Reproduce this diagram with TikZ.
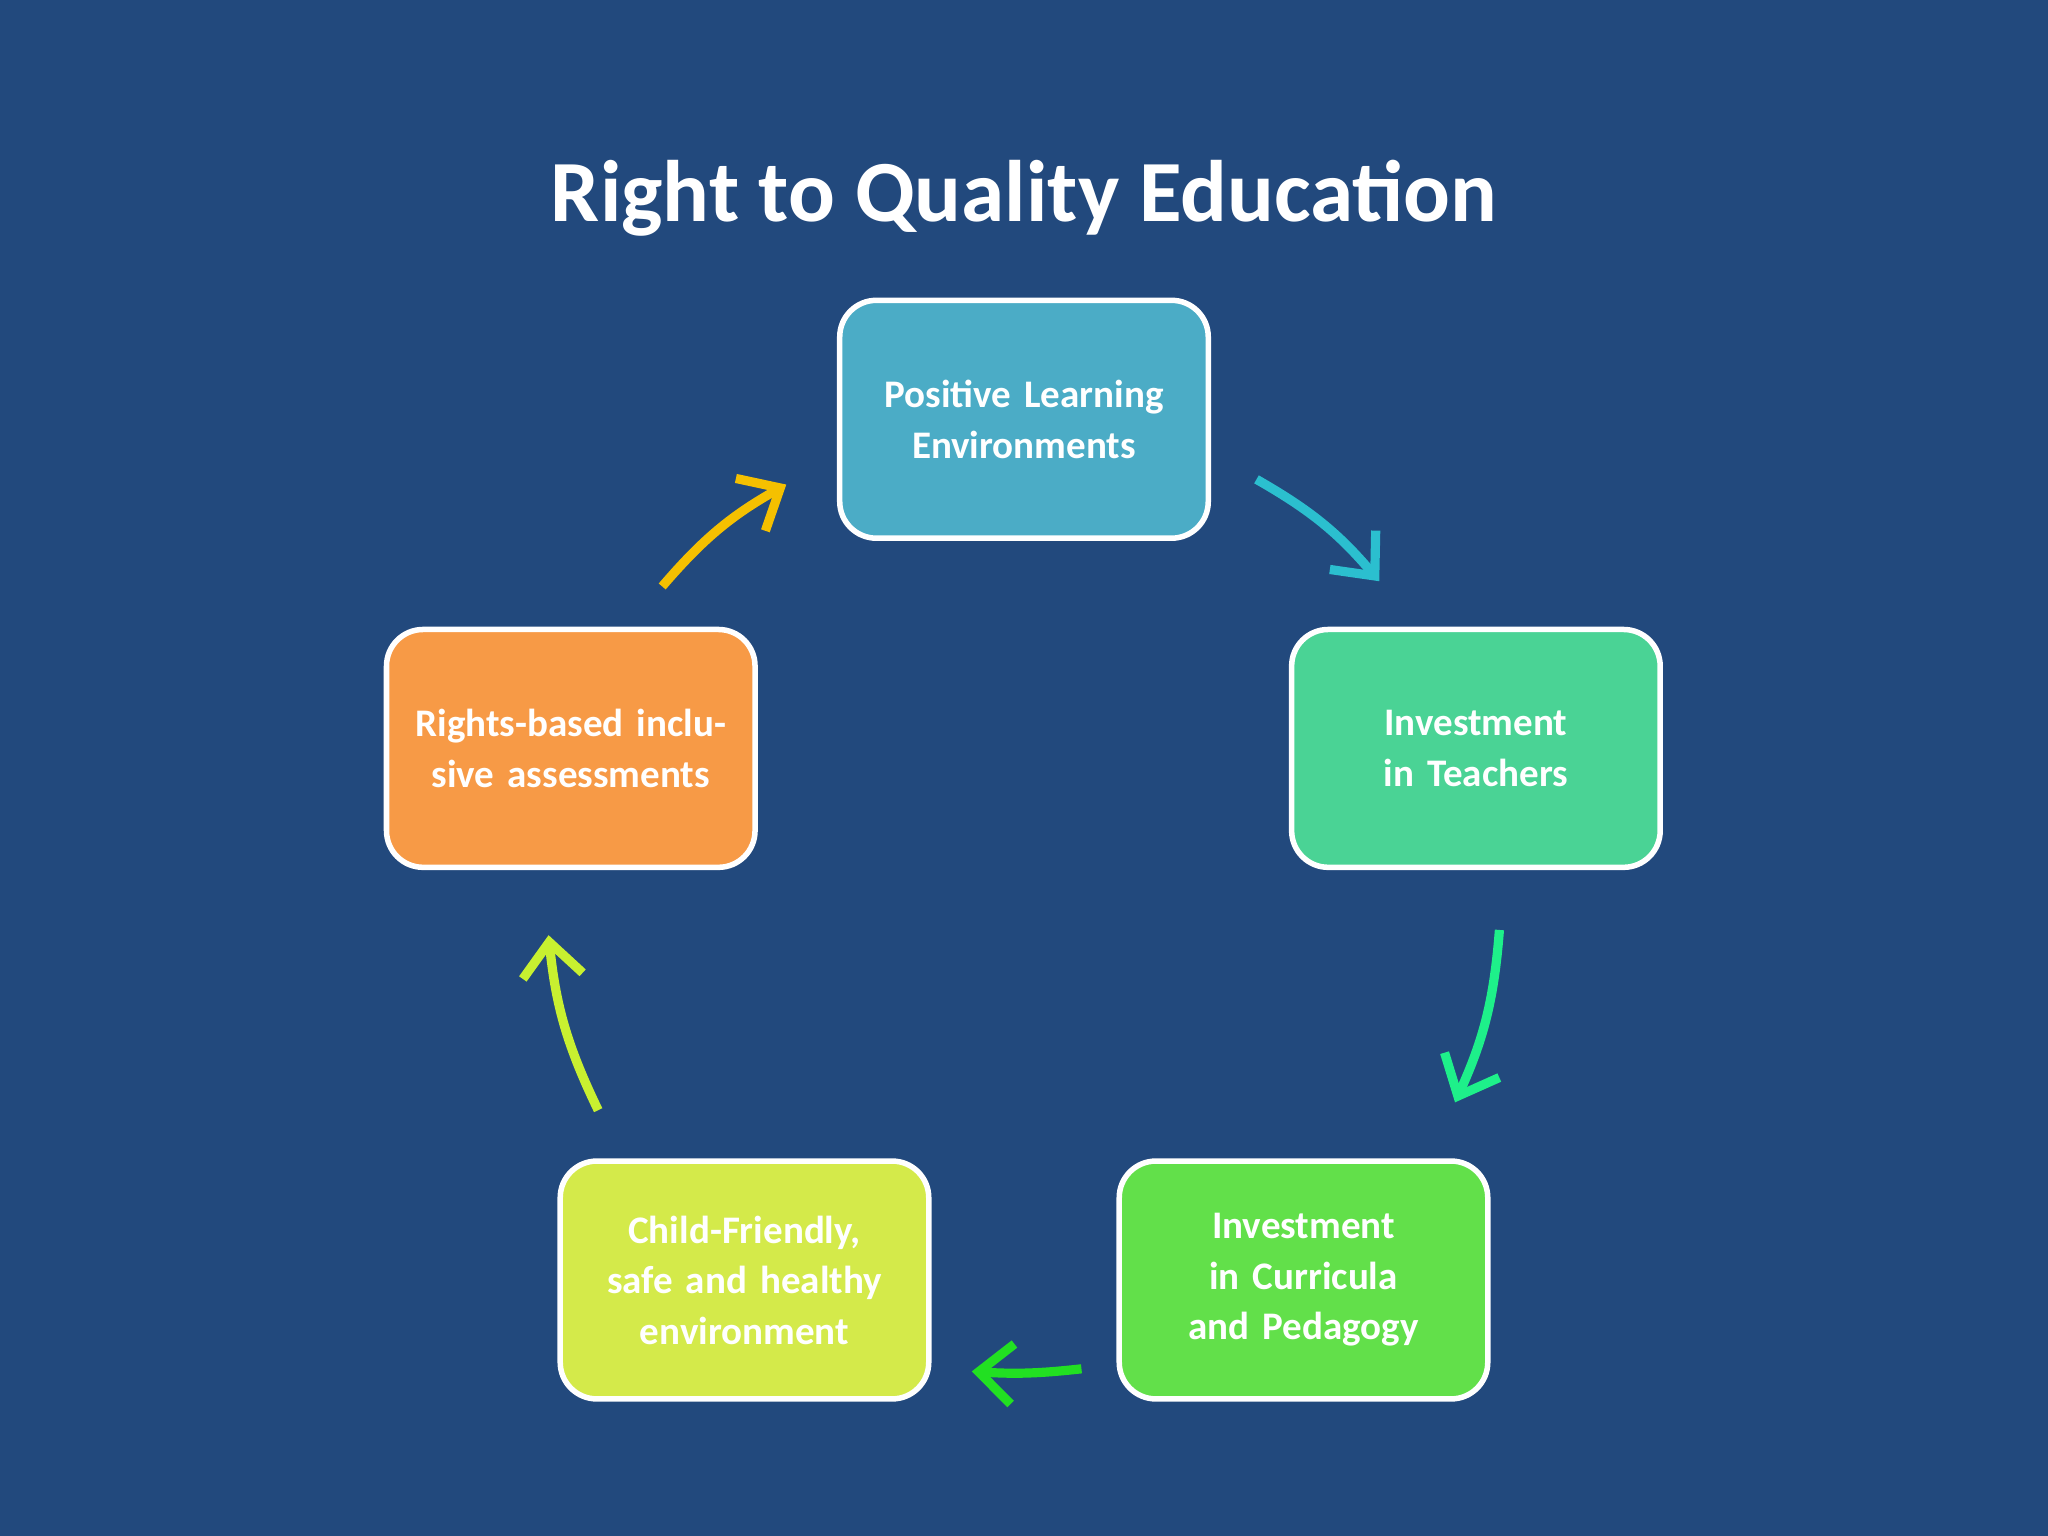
\documentclass[tikz,border=0pt]{standalone}
\usepackage{fontspec}
\setmainfont{Carlito}
\usetikzlibrary{arrows.meta}
\definecolor{bg}{HTML}{22497D}
\definecolor{cA}{HTML}{4BACC6}
\definecolor{cB}{HTML}{4AD395}
\definecolor{cC}{HTML}{62E04A}
\definecolor{cD}{HTML}{D4EA4A}
\definecolor{cE}{HTML}{F79A46}
\definecolor{aA}{HTML}{2BBFCF}
\definecolor{aB}{HTML}{1EF08A}
\definecolor{aC}{HTML}{22E022}
\definecolor{aD}{HTML}{C8F030}
\definecolor{aE}{HTML}{F5C000}
\begin{document}
\begin{tikzpicture}[x=0.01cm,y=-0.01cm,
  box/.style={draw=white,line width=1.2pt,rounded corners=0.28cm,minimum width=2.82cm,minimum height=1.82cm,text width=2.5cm,align=center,text=white,font=\fontsize{8.5}{11}\selectfont\bfseries},
  arr/.style={line width=2pt,-{Straight Barb[length=2.6mm,width=4.6mm,line width=2pt]}}]
\fill[bg] (0,0) rectangle (1568,1176);
\node[text=white,font=\fontsize{19}{22}\selectfont\bfseries] (title) at (784,152) {Right to Quality Education};
\node[box,fill=cA] (a) at (784,321) {Positive Learning Environments};
\node[box,fill=cB] (b) at (1130,573) {Investment in Teachers};
\node[box,fill=cC] (c) at (998,980) {Investment in Curricula and Pedagogy};
\node[box,fill=cD] (d) at (570,980) {Child-Friendly, safe and healthy environment};
\node[box,fill=cE] (e) at (437,573) {Rights-based inclusive assessments};
\coordinate (a1) at (962,367); \coordinate (a2) at (1056,445);
\coordinate (b1) at (1148,712); \coordinate (b2) at (1114,844);
\coordinate (c1) at (828,1048); \coordinate (c2) at (744,1050);
\coordinate (d1) at (458,850); \coordinate (d2) at (420,716);
\coordinate (e1) at (507,449); \coordinate (e2) at (602,371);
\draw[arr,aA] (a1) to[bend left=10] (a2);
\draw[arr,aB] (b1) to[bend left=10] (b2);
\draw[arr,aC] (c1) to[bend left=5] (c2);
\draw[arr,aD] (d1) to[bend left=10] (d2);
\draw[arr,aE] (e1) to[bend left=10] (e2);
\end{tikzpicture}
\end{document}
